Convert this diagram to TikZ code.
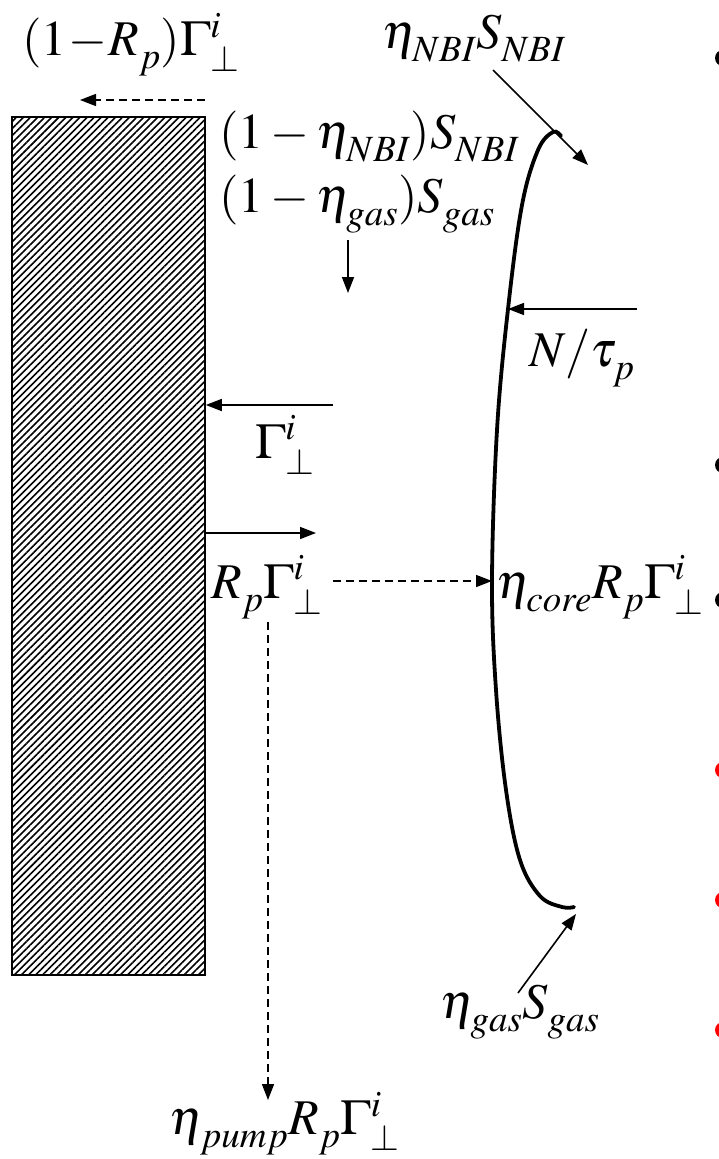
\documentclass[tikz,border=0pt]{standalone}
\usepackage{mathptmx}
\usetikzlibrary{arrows.meta, positioning, patterns.meta}

% lower subscripts, as the slide's equation editor does
\makeatletter
\newcommand\lowersubs{\check@mathfonts
  \fontdimen16\textfont2=13pt\relax \fontdimen17\textfont2=13pt\relax
  \medmuskip=2.5mu\relax}
\makeatother

\tikzset{
  flow/.style={line width=1.6pt, -{Triangle[length=16pt,width=12pt]}},
  dflow/.style={flow, dash pattern=on 8pt off 5pt},
  lbl/.style={inner sep=0pt, font=\fontsize{50}{60}\selectfont\lowersubs},
  wallbox/.style={draw, line width=2pt, minimum width=193pt, minimum height=858pt,
    inner sep=0pt, pattern={Lines[angle=45,distance=5pt,line width=1.6pt]}},
}

\begin{document}
\begin{tikzpicture}[x=1pt,y=-1pt]
  \useasboundingbox (0,0) rectangle (719,1159);

  % wall
  \node[wallbox] (wall) at (108.5,546) {};

  % plasma edge
  \draw[line width=3.8pt, line cap=round] plot[smooth, tension=0.6] coordinates
    {(561,136) (553,132) (538,150) (522,205) (508,309) (497,430) (492,581)
     (496,690) (506,790) (520,860) (540,896) (562,907) (574,907)};

  % labels
  \node[lbl] (lossLbl) at (131,45) {$(1\mkern-2mu-\mkern-2mu R_p)\Gamma^i_\perp$};
  \node[lbl] (nbiLbl) at (474,39) {$\eta_{NBI}S_{NBI}$};
  \node[lbl, anchor=base west] (nbiLoss) at (219,148) {$(1-\eta_{NBI})S_{NBI}$};
  \node[lbl, anchor=base west] (gasLoss) at (219,212) {$(1-\eta_{gas})S_{gas}$};
  \node[lbl] (tauLbl) at (582,358) {$N/\tau_p$};
  \node[lbl] (gammaLbl) at (285,445) {$\Gamma^i_\perp$};
  \node[lbl, anchor=base west] (rpLbl) at (211,598) {$R_p\Gamma^i_\perp$};
  \node[lbl, anchor=base west] (coreLbl) at (496,598) {$\eta_{core}R_p\Gamma^i_\perp$};
  \node[lbl] (gasLbl) at (520,1012) {$\eta_{gas}S_{gas}$};
  \node[lbl] (pumpLbl) at (285,1124) {$\eta_{pump}R_p\Gamma^i_\perp$};

  % arrow ends
  \coordinate (lossTail) at (205,100);
  \coordinate (lossHead) at (80,100);
  \coordinate (nbiTail) at (493,70);
  \coordinate (nbiHead) at (588,165);
  \coordinate (srcTail) at (348,240);
  \coordinate (srcHead) at (348,293);
  \coordinate (tauTail) at (637,309);
  \coordinate (tauHead) at (508,309);
  \coordinate (inTail) at (333,405);
  \coordinate (outHead) at (316,533);
  \coordinate (coreTail) at (333,581);
  \coordinate (coreHead) at (492,581);
  \coordinate (pumpTail) at (268,622);
  \coordinate (pumpHead) at (268,1100);
  \coordinate (gasTail) at (518,993);
  \coordinate (gasHead) at (576,914);

  % flows
  \draw[dflow] (lossTail) -- (lossHead);
  \draw[flow] (nbiTail) -- (nbiHead);
  \draw[flow] (srcTail) -- (srcHead);
  \draw[flow] (tauTail) -- (tauHead);
  \draw[flow] (inTail) -- (inTail -| wall.east);
  \draw[flow] (outHead -| wall.east) -- (outHead);
  \draw[dflow] (coreTail) -- (coreHead);
  \draw[dflow] (pumpTail) -- (pumpHead);
  \draw[flow] (gasTail) -- (gasHead);

  % cut-off bullets at the right edge
  \foreach \yy in {58,465,600} \fill (723,\yy) circle (8);
  \foreach \yy in {770,900,1030} \fill[red] (723,\yy) circle (8);
\end{tikzpicture}
\end{document}
